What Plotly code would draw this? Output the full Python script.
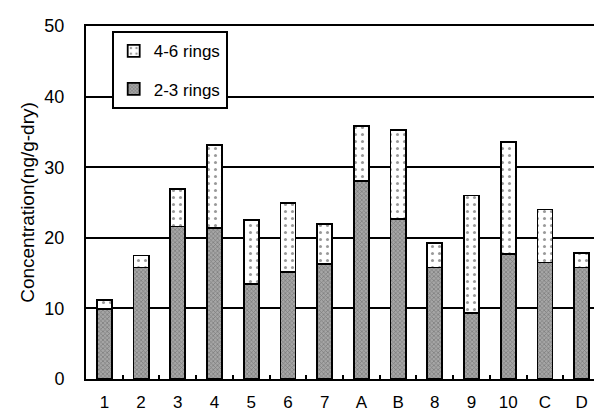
import plotly.graph_objects as go

categories = ["1", "2", "3", "4", "5", "6", "7", "A", "B", "8", "9", "10", "C", "D"]
rings_2_3 = [9.9, 15.8, 21.6, 21.4, 13.5, 15.1, 16.3, 28.0, 22.7, 15.8, 9.4, 17.7, 16.5, 15.8]
totals = [11.2, 17.5, 26.9, 33.2, 22.5, 24.9, 21.9, 35.8, 35.3, 19.3, 26.0, 33.6, 24.0, 17.8]
rings_4_6 = [round(t - b, 2) for t, b in zip(totals, rings_2_3)]
y_ticks = [0, 10, 20, 30, 40, 50]

fig = go.Figure()
fig.add_trace(go.Bar(
    x=categories, y=rings_2_3, name="2-3 rings", legendgroup="a", legendrank=2,
    width=0.41,
    marker=dict(color="#8c8c8c", line=dict(color="black", width=1.8),
                pattern=dict(shape="x", fgcolor="#4a4a4a", bgcolor="#a6a6a6", size=3, solidity=0.4)),
))
fig.add_trace(go.Bar(
    x=categories, y=rings_4_6, name="4-6 rings", legendgroup="b", legendrank=1,
    width=0.41,
    marker=dict(color="white", line=dict(color="black", width=1.8),
                pattern=dict(shape=".", fgcolor="#333333", bgcolor="white", size=7, solidity=0.15)),
))

fig.update_layout(
    barmode="stack",
    width=602, height=412,
    margin=dict(l=78, r=8, t=17, b=36),
    paper_bgcolor="white", plot_bgcolor="white",
    font=dict(family="Liberation Sans, Arial, sans-serif", color="black", size=17),
    showlegend=True,
    legend=dict(x=0.05, y=0.985, xanchor="left", yanchor="top",
                bgcolor="white", bordercolor="black", borderwidth=2,
                traceorder="grouped", tracegroupgap=13,
                itemwidth=30,
                font=dict(size=17)),
    xaxis=dict(
        showline=True, linecolor="black", linewidth=2, mirror=True,
        ticks="inside", tickson="boundaries", ticklen=4, tickcolor="black", tickwidth=2,
        ticklabelstandoff=7, showgrid=False, tickfont=dict(size=17),
    ),
    yaxis=dict(
        range=[0, 50], tickvals=y_ticks,
        showline=True, linecolor="black", linewidth=2, mirror=True,
        showgrid=True, gridcolor="black", gridwidth=2,
        ticks="", ticklabelstandoff=16, tickfont=dict(size=18),
        title=dict(text="Concentration(ng/g-dry)", font=dict(size=19), standoff=5),
        zeroline=False,
    ),
)

fig.write_html("out.html")
